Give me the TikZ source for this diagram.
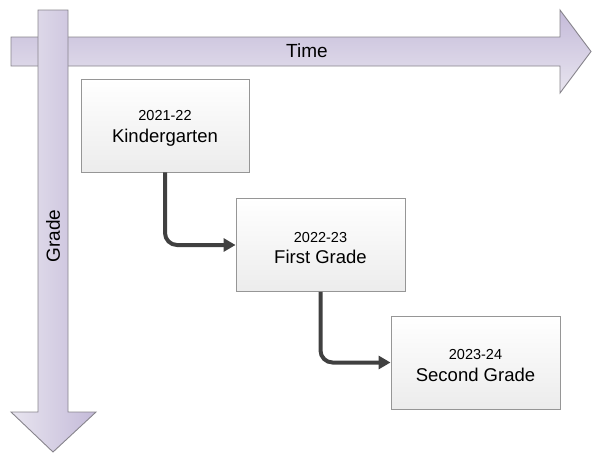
\documentclass[tikz,border=0pt]{standalone}
\usepackage{fontspec}
\setmainfont{Liberation Sans}
\usetikzlibrary{arrows.meta}
\definecolor{lavdark}{RGB}{196,186,217}
\definecolor{lavlight}{RGB}{232,229,239}
\definecolor{lavedge}{RGB}{135,132,140}
\definecolor{boxedge}{RGB}{150,150,150}
\definecolor{boxbot}{RGB}{236,236,236}
\definecolor{conncol}{RGB}{64,64,64}
\tikzset{
  gradebox/.style={draw=boxedge, line width=0.9pt, top color=white, bottom color=boxbot,
    minimum width=168pt, minimum height=93pt, inner sep=0pt},
  boxtext/.style={align=center, inner sep=0pt, font=\fontsize{18.5}{21.5}\selectfont},
  conn/.style={draw=conncol, line width=4pt, rounded corners=12pt,
    -{Triangle[length=12pt,width=13pt]}},
  axislabel/.style={font=\fontsize{19}{22}\selectfont, inner sep=0pt},
}
\newcommand{\yr}[1]{{\fontsize{14.5}{21.5}\selectfont #1}}
\begin{document}
\begin{tikzpicture}[x=1pt,y=-1pt]
\useasboundingbox (0,0) rectangle (592,453);
% horizontal time arrow
\shade[top color=lavdark, bottom color=lavlight, draw=lavedge, line width=0.9pt]
  (11,37) -- (560,37) -- (560,10) -- (591,51.5) -- (560,93) -- (560,66) -- (11,66) -- cycle;
\node[axislabel] (time) at (307,51) {Time};
% vertical grade arrow
\shade[left color=lavlight, right color=lavdark, draw=lavedge, line width=0.9pt]
  (38,10) -- (68,10) -- (68,412) -- (96,412) -- (53,452) -- (11,412) -- (38,412) -- cycle;
\node[axislabel, rotate=90] (grade) at (53,236) {Grade};
% boxes
\node[gradebox] (b1) at (165,125.5) {};
\node[gradebox, minimum width=169pt] (b2) at (320.5,245) {};
\node[gradebox, minimum width=169pt] (b3) at (475.5,362.5) {};
\node[boxtext] (t1) at ([yshift=-3pt]b1.center) {\yr{2021-22}\\Kindergarten};
\node[boxtext] (t2) at ([yshift=-3pt]b2.center) {\yr{2022-23}\\First Grade};
\node[boxtext] (t3) at ([yshift=-3pt]b3.center) {\yr{2023-24}\\Second Grade};
% connectors
\draw[conn] (b1.south) |- (b2.west);
\draw[conn] (b2.south) |- (b3.west);
\end{tikzpicture}
\end{document}
